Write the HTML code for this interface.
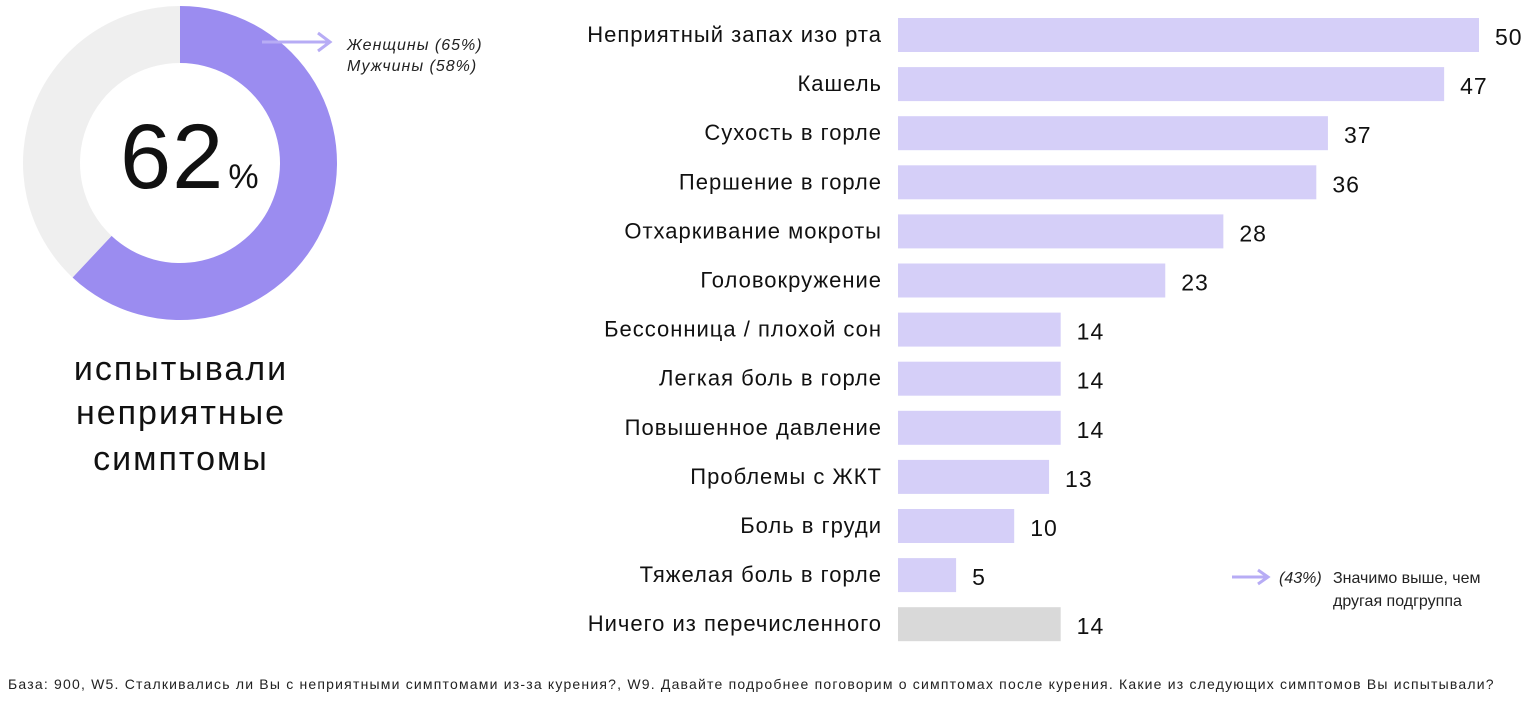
<!DOCTYPE html>
<html><head><meta charset="utf-8"><style>
body{margin:0;width:1529px;height:708px;background:#fff;font-family:"Liberation Sans","Noto Sans CJK SC",sans-serif;overflow:hidden}
</style></head><body>
<svg width="1529" height="708" style="position:absolute;left:0;top:0">
<g id="donut"></g>
<text x="120" y="188" font-size="92" fill="#111" letter-spacing="1">62<tspan font-size="34" dx="4">%</tspan></text>
<line x1="262" y1="42" x2="328" y2="42" stroke="#b7acf5" stroke-width="3"/>
<path d="M318 33 L330 42 L318 51" fill="none" stroke="#b7acf5" stroke-width="3"/>
<text x="347" y="50" font-size="16" font-style="italic" fill="#222" letter-spacing="1">Женщины (65%)</text>
<text x="347" y="71" font-size="16" font-style="italic" fill="#222" letter-spacing="1">Мужчины (58%)</text>
<g font-size="34" fill="#111" text-anchor="middle" letter-spacing="2">
<text x="181" y="380">испытывали</text>
<text x="181" y="424">неприятные</text>
<text x="181" y="470">симптомы</text>
</g>
<g id="bars"></g>
<line x1="1232" y1="577" x2="1266" y2="577" stroke="#b7acf5" stroke-width="3"/>
<path d="M1258 570 L1268 577 L1258 584" fill="none" stroke="#b7acf5" stroke-width="3"/>
<text x="1279" y="583" font-size="16" font-style="italic" fill="#222">(43%)</text>
<text x="1333" y="583" font-size="16" fill="#222">Значимо выше, чем</text>
<text x="1333" y="606" font-size="16" fill="#222">другая подгруппа</text>
<text x="8" y="689" font-size="14" fill="#222" letter-spacing="1.2">База: 900, W5. Сталкивались ли Вы с неприятными симптомами из-за курения?, W9. Давайте подробнее поговорим о симптомах после курения. Какие из следующих симптомов Вы испытывали?</text>
</svg>
<script>
const categories=["Неприятный запах изо рта","Кашель","Сухость в горле","Першение в горле","Отхаркивание мокроты","Головокружение","Бессонница / плохой сон","Легкая боль в горле","Повышенное давление","Проблемы с ЖКТ","Боль в груди","Тяжелая боль в горле","Ничего из перечисленного"];
const values=[50,47,37,36,28,23,14,14,14,13,10,5,14];
const donutValue=62;
const NS="http://www.w3.org/2000/svg";
const x0=898, scale=581/50, rowTop=35, rowStep=49.1, barH=34;
const xS=v=>v*scale, yC=i=>rowTop+i*rowStep;
const g=document.getElementById('bars');
categories.forEach((c,i)=>{
  const r=document.createElementNS(NS,'rect');
  r.setAttribute('x',x0);r.setAttribute('y',yC(i)-barH/2);
  r.setAttribute('width',xS(values[i]));r.setAttribute('height',barH);
  r.setAttribute('fill',i===categories.length-1?'#d9d9d9':'#d5cff8');
  
  
  g.appendChild(r);
  const l=document.createElementNS(NS,'text');
  l.setAttribute('x',882);l.setAttribute('y',yC(i)+7);
  l.setAttribute('text-anchor','end');l.setAttribute('font-size','22');l.setAttribute('fill','#111');
  l.setAttribute('letter-spacing','1');
  l.textContent=c;
  
  
  g.appendChild(l);
  const v=document.createElementNS(NS,'text');
  v.setAttribute('x',x0+xS(values[i])+16);v.setAttribute('y',yC(i)+10);
  v.setAttribute('font-size','23');v.setAttribute('fill','#111');
  v.setAttribute('letter-spacing','1');
  v.textContent=values[i];
  
  
  g.appendChild(v);
});
const cx=180,cy=163,R=157,r=100,d=document.getElementById('donut');
function arc(a0,a1,col,name){
  const p=(a,rad)=>[cx+rad*Math.sin(a),cy-rad*Math.cos(a)];
  const large=(a1-a0)>Math.PI?1:0;
  const [x1,y1]=p(a0,R),[x2,y2]=p(a1,R),[x3,y3]=p(a1,r),[x4,y4]=p(a0,r);
  const e=document.createElementNS(NS,'path');
  e.setAttribute('d',`M${x1} ${y1}A${R} ${R} 0 ${large} 1 ${x2} ${y2}L${x3} ${y3}A${r} ${r} 0 ${large} 0 ${x4} ${y4}Z`);
  e.setAttribute('fill',col);
  
  
  d.appendChild(e);
}
const aEnd=donutValue/100*2*Math.PI;
arc(0,aEnd,'#9b8cf0','donut-segment-experienced');
arc(aEnd,2*Math.PI-0.0001,'#efefef','donut-segment-rest');
</script>
</body></html>
